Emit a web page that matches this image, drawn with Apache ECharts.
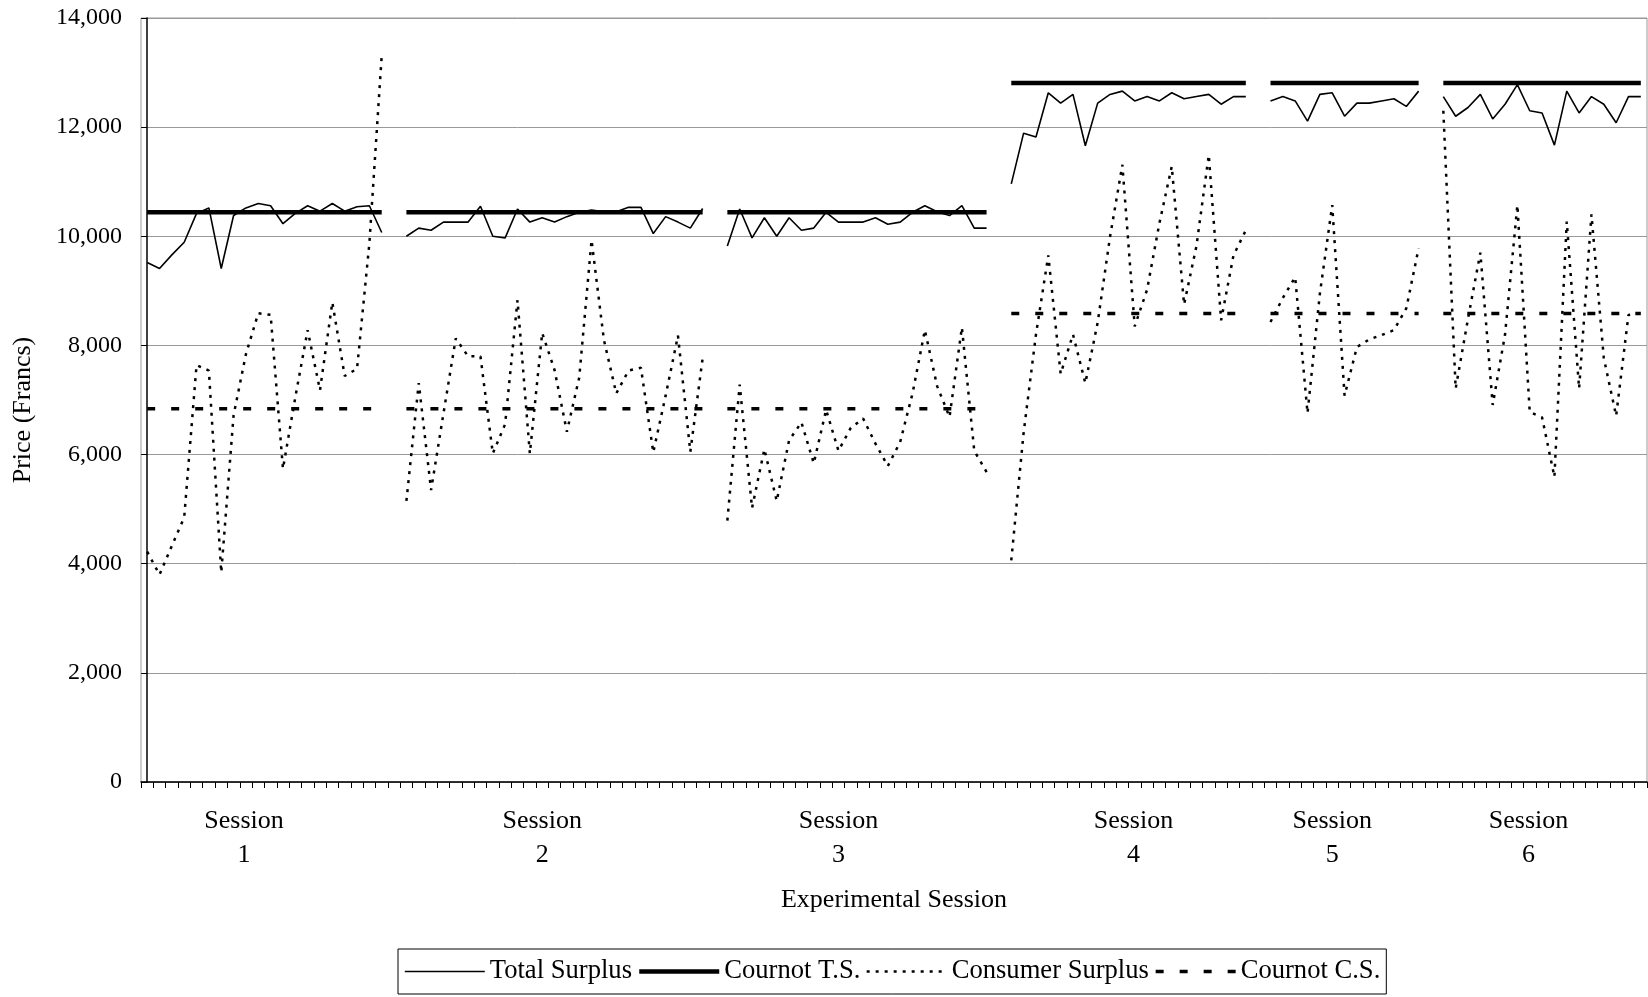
<!DOCTYPE html>
<html>
<head>
<meta charset="utf-8">
<title>Surplus by Experimental Session</title>
<script src="https://cdn.jsdelivr.net/npm/echarts@6/dist/echarts.min.js"></script>
<style>
  html, body { margin: 0; padding: 0; background: #fff; }
  #chart { width: 1648px; height: 997px; }
</style>
</head>
<body>
<div id="chart"></div>
<script>
// data, one inner array per session
const sessions = ["1", "2", "3", "4", "5", "6"];

const totalSurplus = [
  [9520, 9410, 9660, 9890, 10420, 10520, 9410, 10380, 10520, 10600, 10560, 10230, 10420, 10560, 10460, 10600, 10460, 10540, 10560, 10070],
  [10000, 10150, 10110, 10260, 10260, 10260, 10550, 10000, 9970, 10500, 10260, 10340, 10260, 10360, 10440, 10480, 10450, 10450, 10530, 10530, 10050, 10360, 10260, 10150, 10510],
  [9820, 10500, 9970, 10340, 10000, 10340, 10110, 10150, 10440, 10260, 10260, 10260, 10340, 10220, 10260, 10440, 10560, 10450, 10380, 10560, 10150, 10150],
  [10960, 11890, 11820, 12630, 12440, 12600, 11660, 12440, 12600, 12660, 12480, 12560, 12480, 12630, 12520, 12560, 12600, 12420, 12560, 12560],
  [12480, 12560, 12480, 12110, 12600, 12630, 12200, 12440, 12440, 12480, 12520, 12380, 12660],
  [12560, 12200, 12360, 12600, 12150, 12420, 12780, 12300, 12260, 11670, 12660, 12260, 12560, 12420, 12080, 12560, 12560]
];

const consumerSurplus = [
  [4220, 3800, 4330, 4850, 7640, 7540, 3840, 6720, 7840, 8590, 8560, 5740, 7050, 8280, 7180, 8790, 7440, 7570, 9870, 13310],
  [5150, 7310, 5350, 6750, 8130, 7800, 7800, 6020, 6560, 8830, 6020, 8230, 7550, 6420, 7410, 9930, 8100, 7120, 7540, 7590, 6040, 7080, 8180, 6050, 7770],
  [4790, 7280, 5020, 6100, 5150, 6260, 6590, 5840, 6820, 6070, 6490, 6660, 6200, 5790, 6230, 7120, 8280, 7250, 6690, 8330, 6070, 5680],
  [4060, 6400, 8200, 9650, 7480, 8200, 7310, 8420, 9990, 11310, 8350, 9020, 10240, 11280, 8750, 9820, 11490, 8460, 9650, 10110],
  [8430, 8870, 9250, 6760, 8950, 10570, 7080, 7970, 8110, 8190, 8280, 8680, 9780],
  [12300, 7210, 8490, 9700, 6910, 8200, 10570, 6780, 6680, 5590, 10270, 7210, 10400, 7770, 6710, 8560, 8590]
];

const cournotTS = [10440, 10440, 10440, 12810, 12810, 12810];
const cournotCS = [6840, 6840, 6840, 8585, 8585, 8585];

const yMin = 0, yMax = 14000, yStep = 2000;

// one empty period between sessions, like the original sheet
const periods = [], tsData = [], csData = [], cTsData = [], cCsData = [];
sessions.forEach(function (s, i) {
  if (i > 0) {
    periods.push("");
    tsData.push(null); csData.push(null); cTsData.push(null); cCsData.push(null);
  }
  totalSurplus[i].forEach(function (v, j) {
    periods.push(s + "-" + (j + 1));
    tsData.push(v);
    csData.push(consumerSurplus[i][j]);
    cTsData.push(cournotTS[i]);
    cCsData.push(cournotCS[i]);
  });
});

// where the "Session n" captions sit, in period units
const sessionLabelAt = [7.85, 32, 56, 79.9, 96, 111.9];

const serif = "Liberation Serif";
const chart = echarts.init(document.getElementById("chart"));

chart.setOption({
  animation: false,
  backgroundColor: "#fff",
  textStyle: { fontFamily: serif, color: "#000" },
  grid: {
    left: 141,
    right: 1,
    top: 18,
    bottom: 215,
    show: true,
    borderColor: "#999",
    borderWidth: 1,
    backgroundColor: "transparent"
  },
  legend: {
    left: 398,
    top: 949,
    padding: [9, 6, 9, 6],
    itemGap: 5,
    itemWidth: 80,
    itemHeight: 14,
    borderColor: "#000",
    borderWidth: 1,
    itemStyle: { opacity: 0 },
    lineStyle: { width: "inherit" },
    textStyle: { fontFamily: serif, fontSize: 26.6, color: "#000" },
    data: ["Total Surplus", "Cournot T.S.", "Consumer Surplus", "Cournot C.S."]
  },
  xAxis: [
    {
      type: "category",
      data: periods,
      boundaryGap: true,
      name: "Experimental Session",
      nameLocation: "middle",
      nameGap: 105,
      nameTextStyle: { fontFamily: serif, fontSize: 26, color: "#000" },
      axisLine: { lineStyle: { color: "#000", width: 1.5 } },
      axisTick: { show: true, interval: 0, length: 6, lineStyle: { color: "#000" } },
      axisLabel: { show: false },
      splitLine: { show: false }
    },
    {
      type: "value",
      min: -0.5,
      max: periods.length - 0.5,
      position: "bottom",
      axisLine: { show: false },
      axisTick: { show: false },
      splitLine: { show: false },
      axisLabel: {
        customValues: sessionLabelAt,
        margin: 22,
        fontFamily: serif,
        fontSize: 26,
        lineHeight: 34,
        color: "#000",
        formatter: function (v) {
          let k = 0;
          sessionLabelAt.forEach(function (p, i) {
            if (Math.abs(p - v) < Math.abs(sessionLabelAt[k] - v)) k = i;
          });
          return "Session\n" + sessions[k];
        }
      }
    }
  ],
  yAxis: {
    type: "value",
    min: yMin,
    max: yMax,
    interval: yStep,
    name: "Price (Francs)",
    nameLocation: "middle",
    nameGap: 105,
    nameTextStyle: { fontFamily: serif, fontSize: 26, color: "#000", padding: [0, 20, 0, 0] },
    axisLine: { show: true, lineStyle: { color: "#000", width: 1.5 } },
    axisTick: { show: true, length: 6, lineStyle: { color: "#000" } },
    axisLabel: {
      margin: 19,
      fontFamily: serif,
      fontSize: 24,
      color: "#000",
      formatter: function (v) { return v.toLocaleString("en-US"); }
    },
    splitLine: { show: true, lineStyle: { color: "#999", width: 1 } }
  },
  series: [
    {
      name: "Total Surplus",
      type: "line",
      data: tsData,
      symbol: "none",
      connectNulls: false,
      lineStyle: { color: "#000", width: 1.6 },
      itemStyle: { color: "#000" },
      z: 4
    },
    {
      name: "Cournot T.S.",
      type: "line",
      data: cTsData,
      symbol: "none",
      lineStyle: { color: "#000", width: 4.5 },
      itemStyle: { color: "#000" },
      z: 3
    },
    {
      name: "Consumer Surplus",
      type: "line",
      data: csData,
      symbol: "none",
      lineStyle: { color: "#000", width: 2.5, type: [3, 6] },
      itemStyle: { color: "#000" },
      z: 4
    },
    {
      name: "Cournot C.S.",
      type: "line",
      data: cCsData,
      symbol: "none",
      lineStyle: { color: "#000", width: 3.5, type: [8, 16] },
      itemStyle: { color: "#000" },
      z: 3
    }
  ]
});
</script>
</body>
</html>
